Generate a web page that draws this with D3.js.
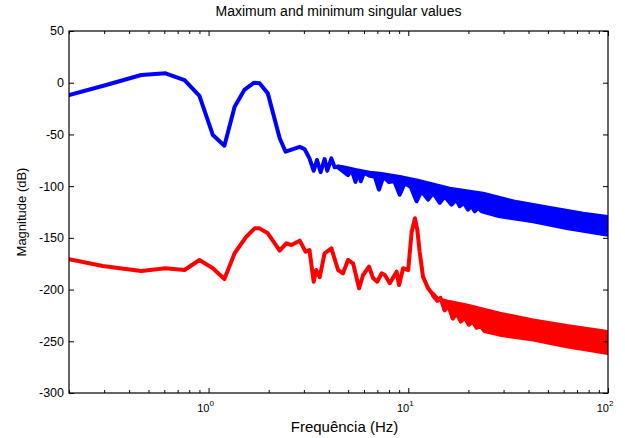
<!DOCTYPE html>
<meta charset="utf-8">

<script src="https://d3js.org/d3.v7.min.js"></script>

<style type="text/css">

body {
  margin: 0;
  background: #fff;
}
svg text {
  font-family: "Liberation Sans", Arial, sans-serif;
  font-size: 12.5px;
  fill: #000;
}
.axis path {
  stroke: none;
}
.axis line {
  stroke: #000;
  stroke-width: 1;
}
.line, .band {
  stroke-width: 4;
  stroke-linejoin: round;
  stroke-linecap: round;
}
.line {
  fill: none;
}

</style>

<body>
</body>

<script>

var titleText = "Maximum and minimum singular values"
var xLabel = "Frequência (Hz)"
var yLabel = "Magnitude (dB)"

var yTicks = [50, 0, -50, -100, -150, -200, -250, -300]
var xMajor = [1, 10, 100]
var xMajorExp = ["0", "1", "2"]
var xMinor = [0.2, 0.3, 0.4, 0.5, 0.6, 0.7, 0.8, 0.9,
  2, 3, 4, 5, 6, 7, 8, 9, 20, 30, 40, 50, 60, 70, 80, 90]

// maximum singular value (blue), low frequency part
var blueFreq = [0.2, 0.307, 0.46, 0.609, 0.758, 0.90, 1.05, 1.20, 1.35, 1.51, 1.69, 1.80,
  1.98, 2.27, 2.43, 2.86, 3.03, 3.20, 3.36, 3.49, 3.64, 3.81, 3.93, 4.12, 4.28, 4.45]
var blueDb = [-12, -2.2, 7.5, 9.1, 2.6, -12.8, -50.5, -60.9, -23.2, -7, 0, -0.6,
  -10.3, -53.7, -66.7, -62, -64.4, -73.1, -85.1, -74.7, -86.6, -73.8, -85.1, -73.1, -81.8, -81.2]

// dense oscillating part: upper and lower envelope of the line
var blueTopFreq = [4.45, 4.71, 5.5, 6.41, 7.2, 9.06, 11.0, 16.1, 23.7, 34.8, 51.2, 75.2, 100]
var blueTopDb = [-81, -81.6, -84.7, -87.1, -88, -91.2, -94.4, -102.5, -107.4, -115.4, -121.2, -126.7, -129.9]
var blueLowFreq = [4.45, 4.99, 5.2, 5.44, 5.6, 5.78, 6.0, 6.4, 6.8, 7.13, 7.5, 8.0, 8.5, 9.06, 9.6,
  10.3, 11.0, 11.65, 12.57, 13.3, 14.38, 15.2, 16.46, 17.4, 18.1, 19.0, 19.9, 20.7, 21.5, 22.3,
  23.3, 28.7, 42.2, 62.1, 100]
var blueLowDb = [-82, -89.4, -84, -95.9, -85, -95.3, -87, -90, -91, -103.4, -91, -96, -95, -108.2, -97,
  -101, -114.6, -104.9, -113, -106.6, -116.2, -109.8, -117.9, -113, -119.4, -116.2, -122.7, -119, -124.3, -121,
  -124.3, -129.1, -133.9, -140.4, -146.9]

// minimum singular value (red)
var redFreq = [0.2, 0.295, 0.46, 0.609, 0.758, 0.90, 1.05, 1.20, 1.35, 1.545, 1.70, 1.80, 1.98,
  2.27, 2.45, 2.60, 2.86, 3.06, 3.20, 3.36, 3.46, 3.60, 3.81, 4.12, 4.45, 4.71, 4.99, 5.29,
  5.67, 5.94, 6.36, 6.67, 6.99, 7.35, 7.63, 8.08, 8.74, 8.99, 9.42, 9.99, 10.4, 10.8, 11.1,
  11.4, 11.85, 12.57, 13.3]
var redDb = [-170.7, -177.2, -182.0, -179.4, -181.1, -171.4, -179.4, -189.8, -164.9, -148.9, -140.8, -140.8, -145.6,
  -162.4, -155.3, -156.9, -152.7, -163.4, -161.7, -192.4, -181.1, -188.1, -164.9, -160.1, -181.1, -184.3, -171.4, -174.6,
  -198.8, -185.9, -177.9, -189.1, -192.4, -184.3, -185.9, -193.9, -182.7, -195.6, -179.4, -181.1, -144.0, -131.1, -142.4,
  -163.4, -187.5, -198.8, -205]

var redTopFreq = [13.3, 14.0, 16.1, 19.6, 28.7, 42.2, 62.1, 100]
var redTopDb = [-204, -209, -212.1, -215.3, -223.4, -229.8, -235.3, -241.1]
var redLowFreq = [13.3, 14.0, 14.5, 15.2, 15.9, 16.7, 17.5, 18.3, 19.2, 20.1, 21, 22, 23, 24,
  28.7, 42.2, 62.1, 100]
var redLowDb = [-206, -211, -208, -220, -216, -228, -223, -231, -227, -234, -231, -237, -235, -240,
  -243.6, -248.4, -254.8, -261.3]

var margin = {top: 31, right: 17, bottom: 45, left: 69};
var width = 625 - margin.left - margin.right,
    height = 438 - margin.top - margin.bottom;

var svg = d3.select("body").append("svg")
  .attr("width", 625)
  .attr("height", 438)
  .append("g")
  .attr("transform", "translate(" + margin.left + "," + margin.top + ")");

var xScale = d3.scaleLog()
  .domain([0.2, 100])
  .range([0, width]);

var yScale = d3.scaleLinear()
  .domain([-300, 50])
  .range([height, 0]);

function pairs(fs, vs) {
  return fs.map(function(f, i) { return [f, vs[i]]; });
}

var lineGenerator = d3.line()
  .x(function(d) { return xScale(d[0]); })
  .y(function(d) { return yScale(d[1]); });

svg.append("clipPath")
  .attr("id", "plotclip")
  .append("rect")
  .attr("width", width)
  .attr("height", height);

var plot = svg.append("g").attr("clip-path", "url(#plotclip)");

function drawSeries(color, freq, db, topF, topV, lowF, lowV) {
  // band: upper envelope forward, lower envelope back
  var band = pairs(topF, topV).concat(pairs(lowF, lowV).reverse());
  plot.append("path")
    .attr("class", "band")
    .attr("d", lineGenerator(band) + "Z")
    .style("fill", color)
    .style("stroke", color);

  plot.append("path")
    .attr("class", "line")
    .style("stroke", color)
    .attr("d", lineGenerator(pairs(freq, db)));
}

drawSeries("#0000ff", blueFreq, blueDb, blueTopFreq, blueTopDb, blueLowFreq, blueLowDb);
drawSeries("#ff0000", redFreq, redDb, redTopFreq, redTopDb, redLowFreq, redLowDb);

// box
svg.append("rect")
  .attr("width", width)
  .attr("height", height)
  .style("fill", "none")
  .style("stroke", "#000")
  .style("stroke-width", 1.2);

// ticks pointing inwards on all four sides
svg.append("g").attr("class", "axis")
  .attr("transform", "translate(0," + height + ")")
  .call(d3.axisBottom(xScale).tickValues(xMajor).tickSize(-5).tickSizeOuter(0).tickFormat(""));
svg.append("g").attr("class", "axis")
  .attr("transform", "translate(0," + height + ")")
  .call(d3.axisBottom(xScale).tickValues(xMinor).tickSize(-3).tickSizeOuter(0).tickFormat(""));
svg.append("g").attr("class", "axis")
  .call(d3.axisTop(xScale).tickValues(xMajor).tickSize(-5).tickSizeOuter(0).tickFormat(""));
svg.append("g").attr("class", "axis")
  .call(d3.axisTop(xScale).tickValues(xMinor).tickSize(-3).tickSizeOuter(0).tickFormat(""));
svg.append("g").attr("class", "axis")
  .call(d3.axisLeft(yScale).tickValues(yTicks).tickSize(-5).tickSizeOuter(0).tickFormat(""));
svg.append("g").attr("class", "axis")
  .attr("transform", "translate(" + width + ",0)")
  .call(d3.axisRight(yScale).tickValues(yTicks).tickSize(-5).tickSizeOuter(0).tickFormat(""));

// y tick labels
svg.selectAll(".ylab")
  .data(yTicks)
  .enter().append("text")
  .attr("class", "ylab")
  .attr("x", -5)
  .attr("y", function(d) { return yScale(d); })
  .attr("dy", "0.35em")
  .style("text-anchor", "end")
  .text(function(d) { return d; });

// x tick labels as 10^n
var xlab = svg.selectAll(".xlab")
  .data(xMajor)
  .enter().append("text")
  .attr("class", "xlab")
  .attr("x", function(d) { return xScale(d) - 3; })
  .attr("y", height + 19)
  .style("text-anchor", "middle")
  .style("font-size", "11px");
xlab.append("tspan").text("10");
xlab.append("tspan")
  .attr("dy", -6)
  .style("font-size", "8px")
  .text(function(d, i) { return xMajorExp[i]; });

svg.append("text")
  .attr("x", width / 2)
  .attr("y", -15)
  .style("text-anchor", "middle")
  .style("font-size", "14px")
  .text(titleText);

svg.append("text")
  .attr("x", width / 2 + 6)
  .attr("y", height + 39)
  .style("text-anchor", "middle")
  .style("font-size", "15px")
  .text(xLabel);

svg.append("text")
  .attr("transform", "translate(-43," + (height / 2) + ") rotate(-90)")
  .style("text-anchor", "middle")
  .style("font-size", "13px")
  .text(yLabel);

</script>
